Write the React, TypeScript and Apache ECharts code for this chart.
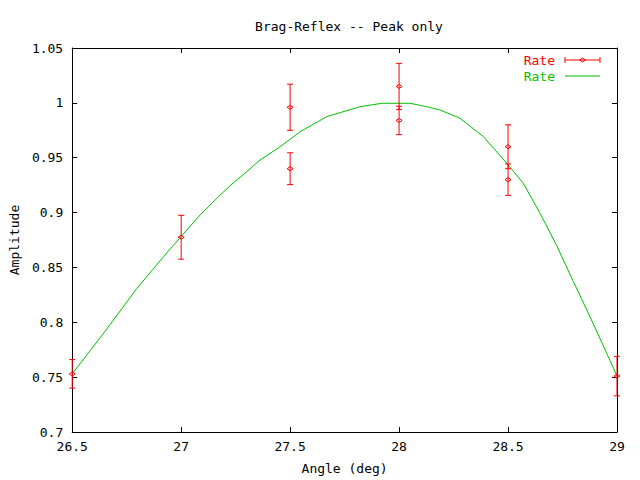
import React, { useEffect, useRef } from "react";
import * as echarts from "echarts";

const FONT = "'DejaVu Sans Mono', monospace";
const RED = "#ff0000";
const GREEN = "#00c000";

// measured points with error bars
const ptX = [26.5, 27, 27.5, 27.5, 28, 28, 28.5, 28.5, 29];
const ptY = [0.753, 0.8775, 0.996, 0.940, 1.015, 0.984, 0.960, 0.930, 0.751];
const ptErr = [0.013, 0.020, 0.021, 0.0145, 0.021, 0.013, 0.020, 0.0143, 0.018];

// green curve
const curveX = [26.5, 26.644, 26.797, 26.95, 27.087, 27.179, 27.24, 27.301, 27.362, 27.454, 27.546, 27.668, 27.821, 27.921, 28.05, 28.127, 28.188, 28.28, 28.387, 28.494, 28.57, 28.647, 28.723, 28.8, 28.876, 28.953, 29];
const curveY = [0.753, 0.790, 0.831, 0.867, 0.8978, 0.916, 0.9272, 0.9373, 0.9479, 0.960, 0.9737, 0.9874, 0.9965, 0.9996, 0.9996, 0.9965, 0.9935, 0.9859, 0.9692, 0.9449, 0.9267, 0.8993, 0.870, 0.837, 0.8051, 0.7717, 0.751];

const fmt = (v: number) => String(+v.toFixed(2));

export default function App() {
  const ref = useRef<HTMLDivElement>(null);
  useEffect(() => {
    const chart = echarts.init(ref.current!, null, { renderer: "svg" });
    const axisLine = { show: true, onZero: false, lineStyle: { color: "#000", width: 1 } };
    const axisTick = { show: true, inside: true, length: 5, lineStyle: { color: "#000" } };
    const labelStyle = { color: "#000", fontFamily: FONT, fontSize: 13 };
    const errData = ptX.map((x, i) => [x, ptY[i], ptErr[i]]);
    const curveData = curveX.map((x, i) => [x, curveY[i]]);
    chart.setOption({
      animation: false,
      backgroundColor: "#fff",
      title: {
        text: "Brag-Reflex -- Peak only",
        left: 344,
        textAlign: "center",
        top: 15,
        textStyle: { ...labelStyle, fontWeight: "normal" },
      },
      grid: { left: 72, right: 23, top: 48, bottom: 48 },
      xAxis: [
        {
          type: "value", position: "bottom", min: 26.5, max: 29, interval: 0.5,
          axisLine, axisTick, splitLine: { show: false },
          axisLabel: { ...labelStyle, margin: 8, formatter: fmt },
          name: "Angle (deg)", nameLocation: "middle", nameGap: 30,
          nameTextStyle: labelStyle,
        },
        {
          type: "value", position: "top", min: 26.5, max: 29, interval: 0.5,
          axisLine, axisTick, splitLine: { show: false }, axisLabel: { show: false },
        },
      ],
      yAxis: [
        {
          type: "value", position: "left", min: 0.7, max: 1.05, interval: 0.05,
          axisLine, axisTick, splitLine: { show: false },
          axisLabel: { ...labelStyle, margin: 9, formatter: fmt },
          name: "Amplitude", nameLocation: "middle", nameGap: 45, nameRotate: 90,
          nameTextStyle: labelStyle,
        },
        {
          type: "value", position: "right", min: 0.7, max: 1.05, interval: 0.05,
          axisLine, axisTick, splitLine: { show: false }, axisLabel: { show: false },
        },
      ],
      series: [
        {
          type: "line",
          name: "Rate fit",
          data: curveData,
          showSymbol: false,
          symbol: "none",
          lineStyle: { color: GREEN, width: 1 },
          smooth: false,
          z: 2,
        },
        {
          type: "custom",
          name: "Rate",
          data: errData,
          encode: { x: 0, y: 1 },
          z: 3,
          renderItem: (params: any, api: any) => {
            const x = api.value(0), y = api.value(1), e = api.value(2);
            const t = api.coord([x, y + e]);
            const b = api.coord([x, y - e]);
            const m = api.coord([x, y]);
            const cw = 3;
            const st = { stroke: RED, lineWidth: 1, fill: "none" };
            return {
              type: "group",
              children: [
                { type: "line", shape: { x1: t[0], y1: t[1], x2: b[0], y2: b[1] }, style: st },
                { type: "line", shape: { x1: t[0] - cw, y1: t[1], x2: t[0] + cw, y2: t[1] }, style: st },
                { type: "line", shape: { x1: b[0] - cw, y1: b[1], x2: b[0] + cw, y2: b[1] }, style: st },
                {
                  type: "polygon",
                  shape: { points: [[m[0] - 3, m[1]], [m[0], m[1] - 2], [m[0] + 3, m[1]], [m[0], m[1] + 2]] },
                  style: st,
                },
              ],
            };
          },
        },
      ],
      graphic: [
        { type: "text", x: 555, y: 60, style: { text: "Rate", fill: RED, font: `13px ${FONT}`, textAlign: "right", textVerticalAlign: "middle" } },
        { type: "line", shape: { x1: 565, y1: 60, x2: 600, y2: 60 }, style: { stroke: RED, lineWidth: 1 } },
        { type: "line", shape: { x1: 565, y1: 57, x2: 565, y2: 63 }, style: { stroke: RED, lineWidth: 1 } },
        { type: "line", shape: { x1: 600, y1: 57, x2: 600, y2: 63 }, style: { stroke: RED, lineWidth: 1 } },
        { type: "polygon", shape: { points: [[579.5, 60], [582.5, 58], [585.5, 60], [582.5, 62]] }, style: { stroke: RED, fill: "none", lineWidth: 1 } },
        { type: "text", x: 555, y: 76, style: { text: "Rate", fill: GREEN, font: `13px ${FONT}`, textAlign: "right", textVerticalAlign: "middle" } },
        { type: "line", shape: { x1: 565, y1: 76, x2: 600, y2: 76 }, style: { stroke: GREEN, lineWidth: 1 } },
      ],
    });
    return () => chart.dispose();
  }, []);
  return <div ref={ref} style={{ position: "absolute", left: 0, top: 0, width: 640, height: 480 }} />;
}
